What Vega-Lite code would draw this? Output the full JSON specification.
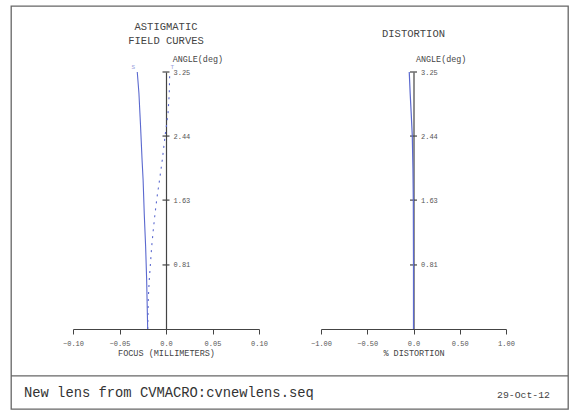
{
  "$schema": "https://vega.github.io/schema/vega-lite/v6.json",
  "width": 557,
  "height": 403,
  "autosize": {"type": "none"},
  "padding": {"left": 11, "top": 6, "right": 8, "bottom": 1},
  "background": "white",
  "config": {
    "view": {"stroke": "#666", "strokeWidth": 1.3},
    "font": "Liberation Mono",
    "axis": {"grid": false, "domainColor": "#444", "tickColor": "#444", "domainWidth": 1.2, "labelColor": "#555", "titleColor": "#444", "labelFont": "Liberation Mono", "titleFont": "Liberation Mono", "titleFontWeight": "normal", "labelFlush": false}
  },
  "datasets": {
    "astig": [
      {"series": "S", "y": 0, "x": -0.0197},
      {"series": "S", "y": 0.62, "x": -0.0208},
      {"series": "S", "y": 1.04, "x": -0.0219},
      {"series": "S", "y": 1.46, "x": -0.0234},
      {"series": "S", "y": 1.88, "x": -0.0246},
      {"series": "S", "y": 2.13, "x": -0.0257},
      {"series": "S", "y": 2.55, "x": -0.0273},
      {"series": "S", "y": 2.98, "x": -0.0291},
      {"series": "S", "y": 3.25, "x": -0.0309},
      {"series": "T", "y": 0, "x": -0.0197},
      {"series": "T", "y": 0.4, "x": -0.019},
      {"series": "T", "y": 0.62, "x": -0.018},
      {"series": "T", "y": 0.83, "x": -0.0167},
      {"series": "T", "y": 1.04, "x": -0.0154},
      {"series": "T", "y": 1.25, "x": -0.0137},
      {"series": "T", "y": 1.46, "x": -0.0118},
      {"series": "T", "y": 1.67, "x": -0.0096},
      {"series": "T", "y": 1.88, "x": -0.007},
      {"series": "T", "y": 2.13, "x": -0.0041},
      {"series": "T", "y": 2.44, "x": -0.001},
      {"series": "T", "y": 2.73, "x": 0.0022},
      {"series": "T", "y": 2.98, "x": 0.0035},
      {"series": "T", "y": 3.25, "x": 0.004}
    ],
    "dist": [
      {"y": 0, "x": 0},
      {"y": 0.81, "x": 0},
      {"y": 1.63, "x": -0.002},
      {"y": 2.03, "x": -0.006},
      {"y": 2.44, "x": -0.013},
      {"y": 2.73, "x": -0.025},
      {"y": 2.98, "x": -0.036},
      {"y": 3.25, "x": -0.046}
    ],
    "yticks": [
      {"x": 0, "y": 0.81},
      {"x": 0, "y": 1.63},
      {"x": 0, "y": 2.44},
      {"x": 0, "y": 3.25}
    ],
    "stlabels": [
      {"label": "S", "x": -0.0352, "y": 3.31},
      {"label": "T", "x": 0.0068, "y": 3.31}
    ],
    "titleL": [
      {"text": "ASTIGMATIC", "x": 0, "y": 3.82},
      {"text": "FIELD CURVES", "x": 0, "y": 3.64}
    ],
    "angleL": [{"text": "ANGLE(deg)", "x": 0.0072, "y": 3.41}],
    "titleR": [{"text": "DISTORTION", "x": 0, "y": 3.73}],
    "angleR": [{"text": "ANGLE(deg)", "x": 0.027, "y": 3.41}],
    "footer": [{"text": "New lens from CVMACRO:cvnewlens.seq", "x": -0.1527, "y": -0.809}],
    "date": [{"text": "29-Oct-12", "x": 0.4129, "y": -0.835}],
    "divider": [{"x": -0.16667, "x2": 0.43226, "y": -0.594}]
  },
  "layer": [
    {
      "encoding": {
        "x": {
          "field": "x", "type": "quantitative",
          "scale": {"domain": [-0.1, 0.1], "range": [62, 248], "nice": false, "zero": false},
          "axis": {"orient": "bottom", "offset": -80, "values": [-0.1, -0.05, 0, 0.05, 0.1], "labelExpr": "datum.value == 0 ? '0.0' : format(datum.value, '.2f')", "tickSize": 5, "labelFontSize": 7, "labelPadding": 5, "title": "FOCUS (MILLIMETERS)", "titleFontSize": 8.5, "titlePadding": 2}
        },
        "y": {
          "field": "y", "type": "quantitative",
          "scale": {"domain": [0, 3.25], "range": [323, 66], "nice": false, "zero": false},
          "axis": {"orient": "right", "offset": -402, "values": [0.81, 1.63, 2.44, 3.25], "format": ".2f", "ticks": false, "labelPadding": 7, "labelFontSize": 7, "title": null}
        }
      },
      "layer": [
        {
          "data": {"name": "astig"},
          "mark": {"type": "line", "color": "#5b69cf", "strokeWidth": 1.1},
          "encoding": {
            "detail": {"field": "series"},
            "strokeDash": {"field": "series", "type": "nominal", "scale": {"domain": ["S", "T"], "range": [[1, 0], [2, 5]]}, "legend": null},
            "order": {"field": "y", "type": "quantitative"}
          }
        },
        {
          "data": {"name": "yticks"},
          "mark": {"type": "tick", "orient": "horizontal", "size": 7, "thickness": 1.2, "color": "#444", "opacity": 1}
        },
        {
          "data": {"name": "stlabels"},
          "mark": {"type": "text", "fontSize": 6, "color": "#9aa3dc", "align": "center", "baseline": "middle"},
          "encoding": {"text": {"field": "label"}}
        },
        {
          "data": {"name": "titleL"},
          "mark": {"type": "text", "fontSize": 10.5, "color": "#444", "align": "center", "baseline": "middle"},
          "encoding": {"text": {"field": "text"}}
        },
        {
          "data": {"name": "angleL"},
          "mark": {"type": "text", "fontSize": 8.4, "color": "#444", "align": "left", "baseline": "middle"},
          "encoding": {"text": {"field": "text"}}
        },
        {
          "data": {"name": "footer"},
          "mark": {"type": "text", "fontSize": 13.8, "color": "#333", "align": "left", "baseline": "middle"},
          "encoding": {"text": {"field": "text"}}
        },
        {
          "data": {"name": "date"},
          "mark": {"type": "text", "fontSize": 9.8, "color": "#444", "align": "right", "baseline": "middle"},
          "encoding": {"text": {"field": "text"}}
        },
        {
          "data": {"name": "divider"},
          "mark": {"type": "rule", "color": "#666", "strokeWidth": 1.3},
          "encoding": {"x2": {"field": "x2"}}
        }
      ]
    },
    {
      "encoding": {
        "x": {
          "field": "x", "type": "quantitative",
          "scale": {"domain": [-1, 1], "range": [310, 495], "nice": false, "zero": false},
          "axis": {"orient": "bottom", "offset": -80, "values": [-1, -0.5, 0, 0.5, 1], "labelExpr": "datum.value == 0 ? '0.0' : format(datum.value, '.2f')", "tickSize": 5, "labelFontSize": 7, "labelPadding": 5, "title": "% DISTORTION", "titleFontSize": 8.5, "titlePadding": 2}
        },
        "y": {
          "field": "y", "type": "quantitative",
          "scale": {"domain": [0, 3.25], "range": [323, 66], "nice": false, "zero": false},
          "axis": {"orient": "right", "offset": -154.5, "values": [0.81, 1.63, 2.44, 3.25], "format": ".2f", "ticks": false, "labelPadding": 7, "labelFontSize": 7, "title": null}
        }
      },
      "layer": [
        {
          "data": {"name": "yticks"},
          "mark": {"type": "tick", "orient": "horizontal", "size": 7, "thickness": 1.2, "color": "#444", "opacity": 1}
        },
        {
          "data": {"name": "dist"},
          "mark": {"type": "line", "color": "#5b69cf", "strokeWidth": 1.2},
          "encoding": {"order": {"field": "y", "type": "quantitative"}}
        },
        {
          "data": {"name": "titleR"},
          "mark": {"type": "text", "fontSize": 10.5, "color": "#444", "align": "center", "baseline": "middle"},
          "encoding": {"text": {"field": "text"}}
        },
        {
          "data": {"name": "angleR"},
          "mark": {"type": "text", "fontSize": 8.4, "color": "#444", "align": "left", "baseline": "middle"},
          "encoding": {"text": {"field": "text"}}
        }
      ]
    }
  ],
  "resolve": {"scale": {"x": "independent", "y": "independent"}}
}
